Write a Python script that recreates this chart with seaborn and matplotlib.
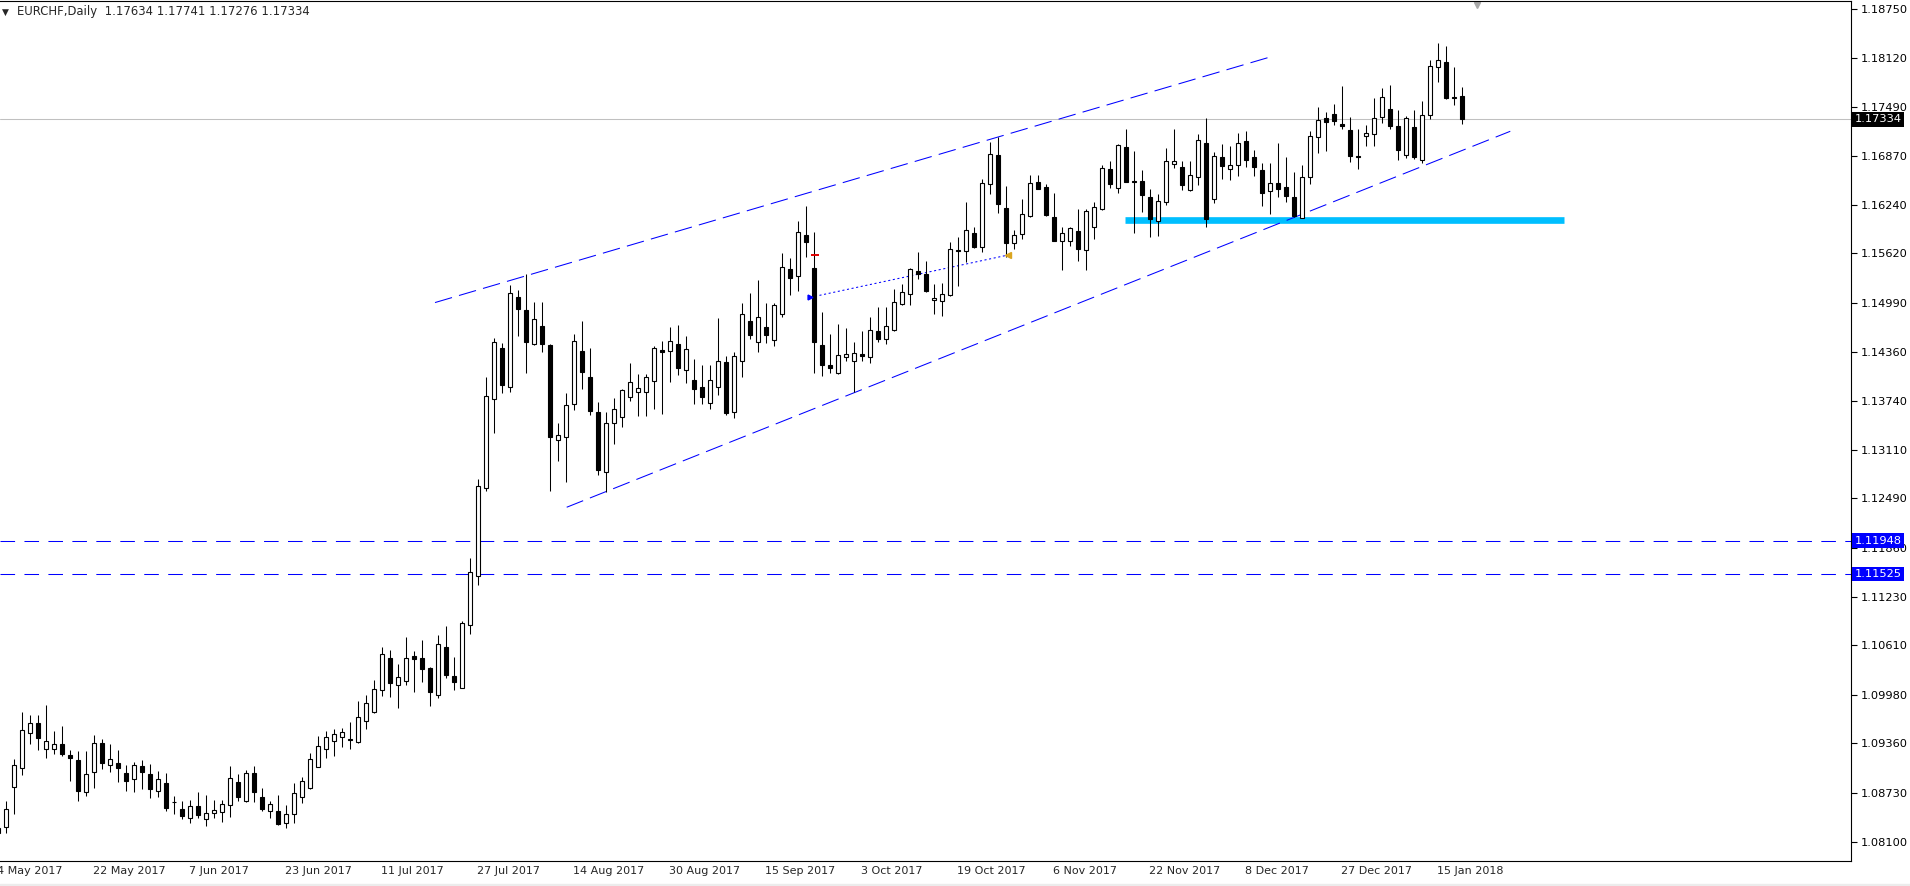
import numpy as np
import pandas as pd
import seaborn as sns
import matplotlib
matplotlib.use("Agg")
import matplotlib.pyplot as plt
import matplotlib.transforms as mtransforms
from matplotlib.patches import Rectangle

# daily EURCHF bars, bar -1 is 4 May 2017, bar 182 is 18 Jan 2018
opens = [
    1.08213, 1.08294, 1.08805, 1.09048, 1.09487, 1.09615, 1.09291, 1.09291, 1.09347, 1.09206,
    1.09146, 1.08741, 1.08989, 1.09360, 1.09078, 1.09104, 1.08976, 1.08900, 1.09070, 1.08963,
    1.08746, 1.08848, 1.08608, 1.08516, 1.08401, 1.08554, 1.08388, 1.08465, 1.08478, 1.08567,
    1.08861, 1.08618, 1.08976, 1.08670, 1.08491, 1.08491, 1.08345, 1.08452, 1.08670, 1.08788,
    1.09053, 1.09283, 1.09393, 1.09444, 1.09411, 1.09380, 1.09641, 1.09756, 1.10037, 1.10446,
    1.10101, 1.10151, 1.10471, 1.10446, 1.10318, 1.09981, 1.10587, 1.10216, 1.10070, 1.10868,
    1.11494, 1.12616, 1.13756, 1.14408, 1.13909, 1.15063, 1.14893, 1.14459, 1.14693, 1.14450,
    1.13232, 1.13270, 1.13692, 1.14373, 1.14041, 1.13594, 1.12823, 1.13449, 1.13526, 1.13782,
    1.13845, 1.13853, 1.13986, 1.14386, 1.14373, 1.14459, 1.14127, 1.14003, 1.13913, 1.13705,
    1.13909, 1.14228, 1.13594, 1.14249, 1.14757, 1.14492, 1.14680, 1.14510, 1.14842, 1.15417,
    1.15328, 1.15860, 1.15430, 1.14446, 1.14194, 1.14096, 1.14293, 1.14242, 1.14335, 1.14293,
    1.14625, 1.14531, 1.14646, 1.14978, 1.15098, 1.15392, 1.15357, 1.15021, 1.15008, 1.15085,
    1.15664, 1.15647, 1.15877, 1.15706, 1.16504, 1.16878, 1.16197, 1.15750, 1.15865, 1.16095,
    1.16529, 1.16465, 1.16082, 1.15775, 1.15775, 1.15903, 1.15660, 1.15962, 1.16184, 1.16695,
    1.16453, 1.16977, 1.16542, 1.16542, 1.16337, 1.16031, 1.16274, 1.16759, 1.16721, 1.16435,
    1.16593, 1.17028, 1.16312, 1.16849, 1.16695, 1.16746, 1.17053, 1.16849, 1.16683, 1.16414,
    1.16516, 1.16465, 1.16337, 1.16077, 1.16593, 1.17104, 1.17347, 1.17398, 1.17270, 1.17194,
    1.16866, 1.17117, 1.17143, 1.17360, 1.17462, 1.17245, 1.16874, 1.17232, 1.16810, 1.17386,
    1.17999, 1.18063, 1.17616, 1.17634]
highs = [
    1.08315, 1.08622, 1.09159, 1.09760, 1.09721, 1.09721, 1.09849, 1.09517, 1.09581, 1.09270,
    1.09261, 1.09261, 1.09466, 1.09411, 1.09351, 1.09274, 1.09082, 1.09121, 1.09146, 1.09095,
    1.09006, 1.08980, 1.08686, 1.08622, 1.08635, 1.08737, 1.08699, 1.08635, 1.08635, 1.09070,
    1.08967, 1.09018, 1.09070, 1.08785, 1.08626, 1.08699, 1.08567, 1.08848, 1.08925, 1.09232,
    1.09453, 1.09513, 1.09538, 1.09551, 1.09632, 1.09900, 1.09973, 1.10165, 1.10587, 1.10548,
    1.10373, 1.10714, 1.10535, 1.10676, 1.10331, 1.10740, 1.10855, 1.10459, 1.10919, 1.11728,
    1.12734, 1.14045, 1.14539, 1.14475, 1.15217, 1.15157, 1.15357, 1.14999, 1.14999, 1.14459,
    1.13453, 1.13833, 1.14590, 1.14757, 1.14412, 1.13721, 1.13590, 1.13773, 1.13888, 1.14220,
    1.14075, 1.14079, 1.14441, 1.14501, 1.14680, 1.14706, 1.14561, 1.14271, 1.14194, 1.14194,
    1.14791, 1.14313, 1.14360, 1.14987, 1.15114, 1.15281, 1.14987, 1.14987, 1.15629, 1.15558,
    1.16031, 1.16226, 1.15890, 1.14868, 1.14590, 1.14715, 1.14667, 1.14484, 1.14629, 1.14808,
    1.14936, 1.14936, 1.15166, 1.15234, 1.15434, 1.15638, 1.15520, 1.15230, 1.15243, 1.15766,
    1.15826, 1.16274, 1.15954, 1.16567, 1.17044, 1.17108, 1.16482, 1.15916, 1.16312, 1.16622,
    1.16622, 1.16504, 1.16392, 1.15954, 1.15954, 1.16184, 1.16184, 1.16274, 1.16746, 1.16798,
    1.17015, 1.17210, 1.16925, 1.16683, 1.16440, 1.16376, 1.16964, 1.17210, 1.16798, 1.16798,
    1.17146, 1.17351, 1.16913, 1.17015, 1.16989, 1.17155, 1.17185, 1.16938, 1.16772, 1.16772,
    1.17028, 1.16849, 1.16657, 1.16746, 1.17181, 1.17488, 1.17424, 1.17526, 1.17756, 1.17360,
    1.17207, 1.17258, 1.17603, 1.17731, 1.17769, 1.17449, 1.17373, 1.17449, 1.17564, 1.18088,
    1.18306, 1.18271, 1.18003, 1.17741]
lows = [
    1.08162, 1.08217, 1.08456, 1.08954, 1.09351, 1.09274, 1.09172, 1.09223, 1.09197, 1.08882,
    1.08626, 1.08690, 1.08792, 1.09027, 1.08997, 1.08869, 1.08754, 1.08741, 1.08779, 1.08664,
    1.08677, 1.08498, 1.08460, 1.08396, 1.08345, 1.08409, 1.08307, 1.08409, 1.08358, 1.08421,
    1.08626, 1.08610, 1.08613, 1.08491, 1.08409, 1.08320, 1.08281, 1.08345, 1.08600, 1.08779,
    1.09050, 1.09176, 1.09201, 1.09308, 1.09291, 1.09360, 1.09538, 1.09750, 1.09968, 1.09955,
    1.09815, 1.10107, 1.10019, 1.10146, 1.09840, 1.09935, 1.10198, 1.10045, 1.10060, 1.10760,
    1.11387, 1.12580, 1.13329, 1.13840, 1.13853, 1.14569, 1.14096, 1.14450, 1.14364, 1.12580,
    1.12971, 1.12703, 1.13623, 1.13891, 1.13555, 1.12792, 1.12575, 1.13189, 1.13406, 1.13738,
    1.13539, 1.13546, 1.13636, 1.13568, 1.13981, 1.14071, 1.13969, 1.13700, 1.13700, 1.13636,
    1.13815, 1.13555, 1.13517, 1.14045, 1.14531, 1.14360, 1.14479, 1.14441, 1.14812, 1.15093,
    1.15144, 1.15578, 1.14096, 1.14054, 1.14096, 1.14076, 1.14249, 1.13845, 1.14249, 1.14223,
    1.14484, 1.14466, 1.14633, 1.14957, 1.14961, 1.15290, 1.15130, 1.14850, 1.14824, 1.15070,
    1.15208, 1.15507, 1.15686, 1.15635, 1.16376, 1.16133, 1.15578, 1.15681, 1.15809, 1.16090,
    1.16440, 1.16095, 1.15775, 1.15405, 1.15719, 1.15527, 1.15405, 1.15809, 1.16171, 1.16453,
    1.16396, 1.16529, 1.15885, 1.16153, 1.15834, 1.15847, 1.16235, 1.16708, 1.16435, 1.16414,
    1.16491, 1.15962, 1.16261, 1.16575, 1.16562, 1.16614, 1.16729, 1.16614, 1.16230, 1.16128,
    1.16345, 1.16281, 1.16090, 1.16069, 1.16511, 1.16907, 1.16933, 1.17265, 1.17207, 1.16785,
    1.16695, 1.16989, 1.16989, 1.17283, 1.17207, 1.16810, 1.16836, 1.16823, 1.16772, 1.17334,
    1.17815, 1.17590, 1.17513, 1.17276]
closes = [
    1.08277, 1.08516, 1.09078, 1.09526, 1.09615, 1.09431, 1.09385, 1.09347, 1.09227, 1.09176,
    1.08754, 1.08963, 1.09360, 1.09112, 1.09155, 1.09048, 1.08882, 1.09078, 1.08997, 1.08779,
    1.08900, 1.08537, 1.08604, 1.08434, 1.08554, 1.08447, 1.08465, 1.08503, 1.08580, 1.08912,
    1.08677, 1.08976, 1.08731, 1.08524, 1.08580, 1.08332, 1.08452, 1.08721, 1.08874, 1.09155,
    1.09325, 1.09436, 1.09474, 1.09500, 1.09398, 1.09692, 1.09871, 1.10050, 1.10497, 1.10133,
    1.10203, 1.10446, 1.10441, 1.10313, 1.10019, 1.10625, 1.10236, 1.10146, 1.10893, 1.11545,
    1.12644, 1.13798, 1.14488, 1.13943, 1.15111, 1.14914, 1.14492, 1.14778, 1.14459, 1.13278,
    1.13300, 1.13679, 1.14497, 1.14109, 1.13610, 1.12856, 1.13449, 1.13628, 1.13871, 1.13974,
    1.13896, 1.14037, 1.14408, 1.14357, 1.14501, 1.14152, 1.14395, 1.13891, 1.13782, 1.13999,
    1.14245, 1.13581, 1.14309, 1.14842, 1.14582, 1.14804, 1.14582, 1.14957, 1.15443, 1.15310,
    1.15890, 1.15770, 1.14492, 1.14198, 1.14160, 1.14318, 1.14331, 1.14344, 1.14313, 1.14638,
    1.14531, 1.14689, 1.14996, 1.15123, 1.15417, 1.15361, 1.15144, 1.15047, 1.15098, 1.15673,
    1.15655, 1.15916, 1.15698, 1.16516, 1.16891, 1.16248, 1.15757, 1.15852, 1.16120, 1.16516,
    1.16447, 1.16115, 1.15783, 1.15877, 1.15941, 1.15681, 1.16159, 1.16210, 1.16708, 1.16511,
    1.17002, 1.16537, 1.16529, 1.16363, 1.16064, 1.16286, 1.16798, 1.16798, 1.16499, 1.16619,
    1.17066, 1.16064, 1.16862, 1.16741, 1.16746, 1.17028, 1.16818, 1.16721, 1.16389, 1.16516,
    1.16440, 1.16350, 1.16102, 1.16593, 1.17117, 1.17322, 1.17296, 1.17309, 1.17245, 1.16862,
    1.16858, 1.17155, 1.17347, 1.17616, 1.17245, 1.16938, 1.17347, 1.16849, 1.17386, 1.18012,
    1.18088, 1.17603, 1.17603, 1.17334]

date_labels = ["4 May 2017", "22 May 2017", "7 Jun 2017", "23 Jun 2017", "11 Jul 2017",
               "27 Jul 2017", "14 Aug 2017", "30 Aug 2017", "15 Sep 2017", "3 Oct 2017",
               "19 Oct 2017", "6 Nov 2017", "22 Nov 2017", "8 Dec 2017", "27 Dec 2017",
               "15 Jan 2018"]
date_bars = [-1, 11, 23, 35, 47, 59, 71, 83, 95, 107, 119, 131, 143, 155, 167, 179]

price_ticks = [1.18750, 1.18120, 1.17490, 1.16870, 1.16240, 1.15620, 1.14990, 1.14360,
               1.13740, 1.13110, 1.12490, 1.11860, 1.11230, 1.10610, 1.09980, 1.09360,
               1.08730, 1.08100]

# drawn objects
h_levels = [1.11948, 1.11525]
last_price = 1.17334
upper_x, upper_y = [53.59, 157.87], [1.14992, 1.18127]
lower_x, lower_y = [70.05, 188.0], [1.12376, 1.17181]
dotted_x, dotted_y = [100.5, 125.25], [1.15059, 1.15600]
support_x, support_level = [139.9, 194.7], 1.16044

df = pd.DataFrame({"bar": np.arange(len(opens)) - 1, "open": opens, "high": highs,
                   "low": lows, "close": closes})
df["up"] = df["close"] >= df["open"]
df["body_lo"] = df[["open", "close"]].min(axis=1)
df["body_h"] = (df["close"] - df["open"]).abs().clip(lower=0.00002)

sns.set_style("white")
plt.rcParams["font.family"] = ["DejaVu Sans"]

fig = plt.figure(figsize=(19.1, 8.86), dpi=100)
ax = fig.add_axes([0, 25 / 886, 1851 / 1910, 860 / 886])
ax.set_xlim(-0.7875, 230.59)
ax.set_ylim(1.07855, 1.18846)

BLUE = "#0000ff"
# objects sit behind the candles
for lvl in h_levels:
    ax.axhline(lvl, color=BLUE, lw=0.75, ls=(0, (14, 9)), zorder=1)
ax.axhline(last_price, color="#c0c0c0", lw=0.75, zorder=1)
ax.plot(support_x, [support_level, support_level], color="#00bfff", lw=4.8,
        solid_capstyle="butt", zorder=1)
sns.lineplot(x=upper_x, y=upper_y, ax=ax, color=BLUE, lw=0.75, linestyle=(0, (17, 7)), zorder=2)
sns.lineplot(x=lower_x, y=lower_y, ax=ax, color=BLUE, lw=0.75, linestyle=(0, (17, 7)), zorder=2)
sns.lineplot(x=dotted_x, y=dotted_y, ax=ax, color=BLUE, lw=0.75, linestyle=(0, (2, 2.5)), zorder=2)

# candles
ax.vlines(df["bar"], df["low"], df["high"], color="black", lw=0.75, zorder=3)
ax.bar(df["bar"], df["body_h"], bottom=df["body_lo"], width=0.5,
       color=np.where(df["up"], "white", "black"), edgecolor="black", linewidth=0.8, zorder=4)

# small trade marks
ax.plot(dotted_x[0], dotted_y[0], marker=">", color=BLUE, ms=3.5, zorder=5)
ax.plot(101.1, 1.15596, marker="_", color="#e00000", ms=6, mew=1.4, zorder=5)
ax.plot(dotted_x[1], dotted_y[1], marker="<", color="#daa520", ms=4, zorder=5)

for s in ["top", "right", "bottom"]:
    ax.spines[s].set_color("black")
    ax.spines[s].set_linewidth(0.8)
ax.spines["left"].set_visible(False)

ax.yaxis.tick_right()
ax.set_yticks(price_ticks)
ax.set_yticklabels([f"{v:.5f}" for v in price_ticks])
ax.tick_params(axis="y", direction="out", length=4, width=0.8, pad=3, labelsize=8.2,
               colors="black")

xlo = ax.get_xlim()[0]
ax.set_xticks([b - 0.45 for b in date_bars if b - 0.45 > xlo])
ax.set_xticklabels([])
ax.tick_params(axis="x", direction="out", length=4, width=0.8)
bx = mtransforms.blended_transform_factory(ax.transData, ax.transAxes)
for b, lbl in zip(date_bars, date_labels):
    ax.text(b - 0.45 + 0.3, -0.0055, lbl, transform=bx, ha="left", va="top",
            fontsize=8, clip_on=False)

# price boxes on the scale
by = mtransforms.blended_transform_factory(ax.transAxes, ax.transData)
for lvl in h_levels:
    ax.text(1.002, lvl, f"{lvl:.5f}", transform=by, ha="left", va="center", fontsize=8.2,
            color="white", zorder=10, clip_on=False,
            bbox=dict(boxstyle="square,pad=0.2", fc=BLUE, ec="none"))
ax.text(1.002, last_price, f"{last_price:.5f}", transform=by, ha="left", va="center",
        fontsize=8.2, color="white", zorder=10, clip_on=False,
        bbox=dict(boxstyle="square,pad=0.2", fc="black", ec="none"))

# header
hy = 1 - 11 / 860
ax.text(2 / 1851, hy, "\u25bc", transform=ax.transAxes, fontsize=6.5, va="center", ha="left")
ax.text(17 / 1851, hy, "EURCHF,Daily  1.17634 1.17741 1.17276 1.17334",
        transform=ax.transAxes, fontsize=8.4, va="center", ha="left")
ax.plot(183.8, 1 - 4 / 860, marker="v", color="#a8a8a8", ms=5, transform=bx, clip_on=False)

fig.add_artist(Rectangle((0, 0), 1, 2 / 886, color="#ececec", transform=fig.transFigure))

fig.savefig("out.png", dpi=100)
